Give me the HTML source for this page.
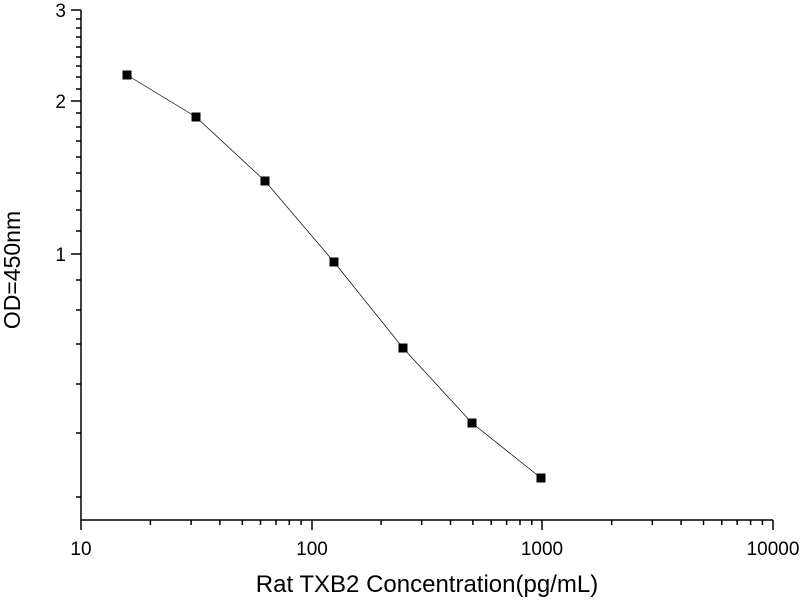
<!DOCTYPE html>
<html><head><meta charset="utf-8"><style>html,body{margin:0;padding:0;background:#fff}svg{display:block}</style></head>
<body>
<svg width="800" height="600" xmlns="http://www.w3.org/2000/svg" font-family="Liberation Sans, Arial, sans-serif">
<rect width="800" height="600" fill="#fff"/>
<g stroke="#000" stroke-width="1.5" fill="none">
<path d="M81,10 V520 H773"/>
<path d="M71,10 H81 M71,101 H81 M71,254 H81"/>
<path d="M76,19H81M76,28H81M76,37H81M76,47H81M76,57H81M76,66H81M76,77H81M76,89H81
M76,113H81M76,127H81M76,141H81M76,157H81M76,173H81M76,191H81M76,210H81M76,231H81
M76,280H81M76,310H81M76,344H81M76,384H81M76,433H81M76,497H81"/>
<path d="M81,520V530M312,520V530M542,520V530M773,520V530"/>
<path d="
M150.4,520v5M191.1,520v5M219.9,520v5M242.3,520v5M260.5,520v5M276,520v5M289.3,520v5M301.1,520v5
M381.1,520v5M421.7,520v5M450.5,520v5M472.9,520v5M491.2,520v5M506.6,520v5M520,520v5M531.8,520v5
M611.7,520v5M652.3,520v5M681.1,520v5M703.5,520v5M721.8,520v5M737.2,520v5M750.6,520v5M762.4,520v5"/>
</g>
<polyline points="127,75 196,117 265,181 334,262 403,348 472,423 541,478" fill="none" stroke="#000" stroke-width="0.7"/>
<g fill="#000">
<rect x="122.5" y="70.5" width="9" height="9"/>
<rect x="191.5" y="112.5" width="9" height="9"/>
<rect x="260.5" y="176.5" width="9" height="9"/>
<rect x="329.5" y="257.5" width="9" height="9"/>
<rect x="398.5" y="343.5" width="9" height="9"/>
<rect x="467.5" y="418.5" width="9" height="9"/>
<rect x="536.5" y="473.5" width="9" height="9"/>
</g>
<g font-size="19" fill="#000">
<text x="66" y="17" text-anchor="end">3</text>
<text x="66" y="108" text-anchor="end">2</text>
<text x="66" y="261" text-anchor="end">1</text>
<text x="81" y="555" text-anchor="middle">10</text>
<text x="312" y="555" text-anchor="middle">100</text>
<text x="542" y="555" text-anchor="middle">1000</text>
<text x="773" y="555" text-anchor="middle">10000</text>
</g>
<text x="427" y="592" font-size="24" text-anchor="middle">Rat TXB2 Concentration(pg/mL)</text>
<text transform="translate(20,270) rotate(-90)" font-size="23" text-anchor="middle">OD=450nm</text>
</svg>
</body></html>
